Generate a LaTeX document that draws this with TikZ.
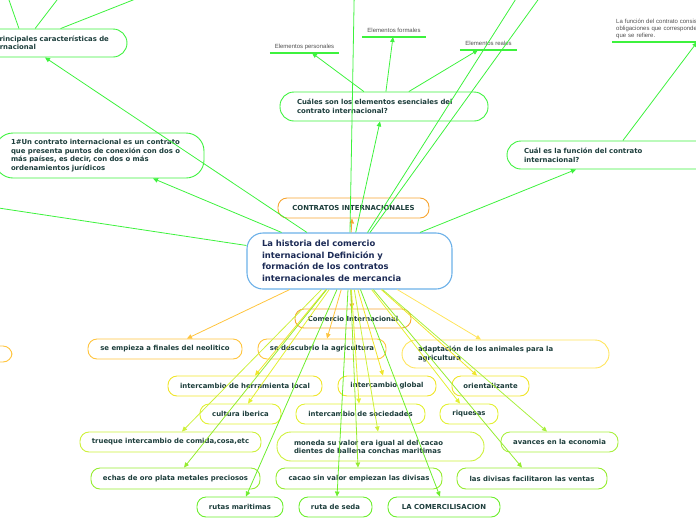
\documentclass[tikz,border=0pt]{standalone}
\usepackage{fontspec}
\setmainfont{DejaVu Sans}
\newfontfamily\labelfont{Liberation Sans}
\usetikzlibrary{arrows.meta}
\definecolor{txt}{HTML}{1C3D3B}
\definecolor{navy}{HTML}{1B2A55}
\definecolor{glab}{HTML}{505050}
\definecolor{cBlue}{HTML}{6BB0E8}
\definecolor{cOrange}{HTML}{F7A531}
\definecolor{cGold}{HTML}{FFC43D}
\definecolor{cAdapt}{HTML}{FFE45C}
\definecolor{cYellow}{HTML}{F0E52A}
\definecolor{cYGa}{HTML}{E2F032}
\definecolor{cYGb}{HTML}{CDF03A}
\definecolor{cYGc}{HTML}{A9F03F}
\definecolor{cGY}{HTML}{95EC30}
\definecolor{cGr}{HTML}{6CEE2C}
\definecolor{cLime}{HTML}{3DF23D}
\tikzset{
  mbox/.style={draw=#1, line width=0.9pt, rounded corners=9pt, inner sep=0pt,
    font=\bfseries\fontsize{6.9}{8.5}\selectfont, text=txt, align=center},
  tall/.style={rounded corners=14pt, align=left},
  elab/.style={inner sep=0pt, minimum height=12pt, text=glab,
    font=\labelfont\fontsize{6}{7}\selectfont},
  uline/.style={draw=cLime, line width=1.6pt},
  conn/.style={draw=#1, line width=0.8pt, -{Triangle[length=5pt,width=4.5pt]}},
  plainconn/.style={draw=#1, line width=0.8pt}
}
\begin{document}
\begin{tikzpicture}[x=1pt,y=-1pt]
\useasboundingbox (0,0) rectangle (696,520);
\clip (0,0) rectangle (696,520);

% central node
\node[mbox=cBlue, line width=1.1pt, rounded corners=16pt, text width=175pt,
  inner xsep=15pt, minimum height=56pt, align=left, text=navy,
  font=\bfseries\fontsize{8.4}{11.7}\selectfont] (c) at (349.5,261)
  {La historia del comercio\\internacional Definición y\\formación de los contratos\\internacionales de mercancia};

% upper nodes
\node[mbox=cOrange, minimum width=151pt, minimum height=20pt] (contr) at (353.5,208) {CONTRATOS INTERNACIONALES};
\node[mbox=cLime, tall, text width=174pt, inner xsep=17pt, minimum height=29pt] (cua) at (384,106.5)
  {Cuáles son los elementos esenciales del\\contrato internacional?};
\node[mbox=cLime, tall, text width=174pt, inner xsep=16pt, minimum height=28pt] (tl) at (24,43)
  {Cuáles son las principales características de\\un contrato internacional};
\node[mbox=cLime, tall, rounded corners=18pt, text width=177pt, inner xsep=16pt, minimum height=45pt] (un) at (99.5,155.5)
  {1\#Un contrato internacional es un contrato\\que presenta puntos de conexión con dos o\\más países, es decir, con dos o más\\ordenamientos jurídicos};
\node[mbox=cLime, tall, text width=176pt, inner xsep=17pt, minimum height=28pt,
  font=\bfseries\fontsize{6.9}{9}\selectfont] (cf) at (612,155)
  {Cuál es la función del contrato\\internacional?};

% labels with underline
\node[elab, minimum width=69pt, anchor=south] (ep) at (304.5,53) {Elementos personales};
\node[elab, minimum width=64pt, anchor=south] (ef) at (394,37) {Elementos formales};
\node[elab, minimum width=57pt, anchor=south] (er) at (488.5,50) {Elementos reales};
\node[elab, anchor=south west, text width=190pt, inner xsep=4pt, minimum height=25pt, align=left] (lf) at (612,42)
  {La función del contrato consiste en crear las\\obligaciones que corresponden a las partes\\que se refiere.};
\draw[uline] (ep.south west) -- (ep.south east);
\draw[uline] (ef.south west) -- (ef.south east);
\draw[uline] (er.south west) -- (er.south east);
\draw[uline] (lf.south west) -- (lf.south east);

% left stub
\node[mbox=cGold, minimum width=72pt, minimum height=16pt] (ls) at (-24,354) {};

% lower nodes
\node[mbox=cOrange, minimum width=116pt, minimum height=19pt] (com) at (353,318.5) {Comercio Internacional};
\node[mbox=cGold, minimum width=154pt, minimum height=20pt] (emp) at (165,349) {se empieza a finales del neolitico};
\node[mbox=cGold, minimum width=128pt, minimum height=20pt] (desc) at (322,349) {se descubrio la agricultura};
\node[mbox=cAdapt, tall, text width=175pt, inner xsep=16pt, minimum height=28pt] (adap) at (505.5,354)
  {adaptación de los animales para la\\agricultura};
\node[mbox=cYellow, minimum width=154pt, minimum height=20pt] (herr) at (245,386) {intercambio de herramienta local};
\node[mbox=cYellow, minimum width=98pt, minimum height=20pt] (glob) at (387,386) {intercambio global};
\node[mbox=cYellow, minimum width=77pt, minimum height=20pt] (ori) at (490.5,386) {orientalizante};
\node[mbox=cYGa, minimum width=81pt, minimum height=20pt] (cult) at (240.5,414) {cultura iberica};
\node[mbox=cYGa, minimum width=129pt, minimum height=20pt] (soc) at (360.5,414) {intercambio de sociedades};
\node[mbox=cYGa, minimum width=58pt, minimum height=20pt] (riq) at (469,414) {riquesas};
\node[mbox=cYGb, minimum width=181pt, minimum height=20pt] (true) at (170.5,442) {trueque intercambio de comida,cosa,etc};
\node[mbox=cYGb, tall, text width=173pt, inner xsep=17pt, minimum height=29pt,
  font=\bfseries\fontsize{6.9}{8}\selectfont] (mon) at (380.5,446.5)
  {moneda su valor era igual al del cacao\\dientes de ballena conchas maritimas};
\node[mbox=cYGc, minimum width=117pt, minimum height=20pt] (av) at (559.5,442) {avances en la economia};
\node[mbox=cGY, minimum width=169pt, minimum height=21pt] (ech) at (175.5,478.5) {echas de oro plata metales preciosos};
\node[mbox=cGY, minimum width=166pt, minimum height=21pt] (cac) at (359,478.5) {cacao sin valor empiezan las divisas};
\node[mbox=cGY, minimum width=150pt, minimum height=21pt] (div) at (532,478.5) {las divisas facilitaron las ventas};
\node[mbox=cGr, minimum width=86pt, minimum height=20pt] (rut) at (240,507) {rutas maritimas};
\node[mbox=cGr, minimum width=73pt, minimum height=20pt] (seda) at (335.5,507) {ruta de seda};
\node[mbox=cGr, minimum width=112pt, minimum height=20pt] (lac) at (444,507) {LA COMERCILISACION};

% off-canvas ends
\coordinate (up1) at (355,-50);
\coordinate (up2) at (547,-50);
\coordinate (up3) at (574,-50);
\coordinate (lf1) at (-200,178);
\coordinate (tl1) at (-1.5,-30);
\coordinate (tl2) at (80,-30);
\coordinate (tl3) at (209,-30);

% upper connectors
\draw[conn=cOrange] (c) -- ([xshift=-1.5pt]contr.south);
\draw[conn=cLime] (c) -- ([xshift=-4pt]cua.south);
\draw[conn=cLime] (c) -- ([xshift=21pt]tl.south);
\draw[conn=cLime] (c) -- ([xshift=53.5pt]un.south);
\draw[conn=cLime] (c) -- ([xshift=-36pt]cf.south);
\draw[plainconn=cLime] (c) -- (up1);
\draw[plainconn=cLime] (c) -- (up2);
\draw[plainconn=cLime] (c) -- (up3);
\draw[plainconn=cLime] (c) -- (lf1);
\draw[plainconn=cLime] (tl) -- (tl1);
\draw[plainconn=cLime] (tl) -- (tl2);
\draw[plainconn=cLime] (tl) -- (tl3);
\draw[conn=cLime] (cua) -- ([xshift=7.5pt]ep.south);
\draw[conn=cLime] (cua) -- ([xshift=-1pt]ef.south);
\draw[conn=cLime] (cua) -- ([xshift=-10.5pt]er.south);
\draw[conn=cLime] (cf) -- ([xshift=-14pt]lf.south);

% lower connectors
\draw[conn=cOrange] (c) -- ([xshift=-1pt]com.north);
\draw[conn=cGold] (c) -- ([xshift=22pt]emp.north);
\draw[conn=cGold] (c) -- ([xshift=5pt]desc.north);
\draw[conn=cAdapt] (c) -- ([xshift=-24.5pt]adap.north);
\draw[conn=cYellow] (c) -- ([xshift=10pt]herr.north);
\draw[conn=cYellow] (c) -- ([xshift=-4pt]glob.north);
\draw[conn=cYellow] (c) -- ([xshift=-13.5pt]ori.north);
\draw[conn=cYGa] (c) -- ([xshift=7.5pt]cult.north);
\draw[conn=cYGa] (c) -- ([xshift=-1.5pt]soc.north);
\draw[conn=cYGa] (c) -- ([xshift=-9pt]riq.north);
\draw[conn=cYGb] (c) -- ([xshift=11.5pt]true.north);
\draw[conn=cYGb] (c) -- ([xshift=-2.5pt]mon.north);
\draw[conn=cYGc] (c) -- ([xshift=-12.5pt]av.north);
\draw[conn=cGY] (c) -- ([xshift=8.5pt]ech.north);
\draw[conn=cGY] (c) -- ([xshift=-1pt]cac.north);
\draw[conn=cGY] (c) -- ([xshift=-10pt]div.north);
\draw[conn=cGr] (c) -- ([xshift=6pt]rut.north);
\draw[conn=cGr] (c) -- ([xshift=1.5pt]seda.north);
\draw[conn=cGr] (c) -- ([xshift=-4pt]lac.north);
\end{tikzpicture}
\end{document}
